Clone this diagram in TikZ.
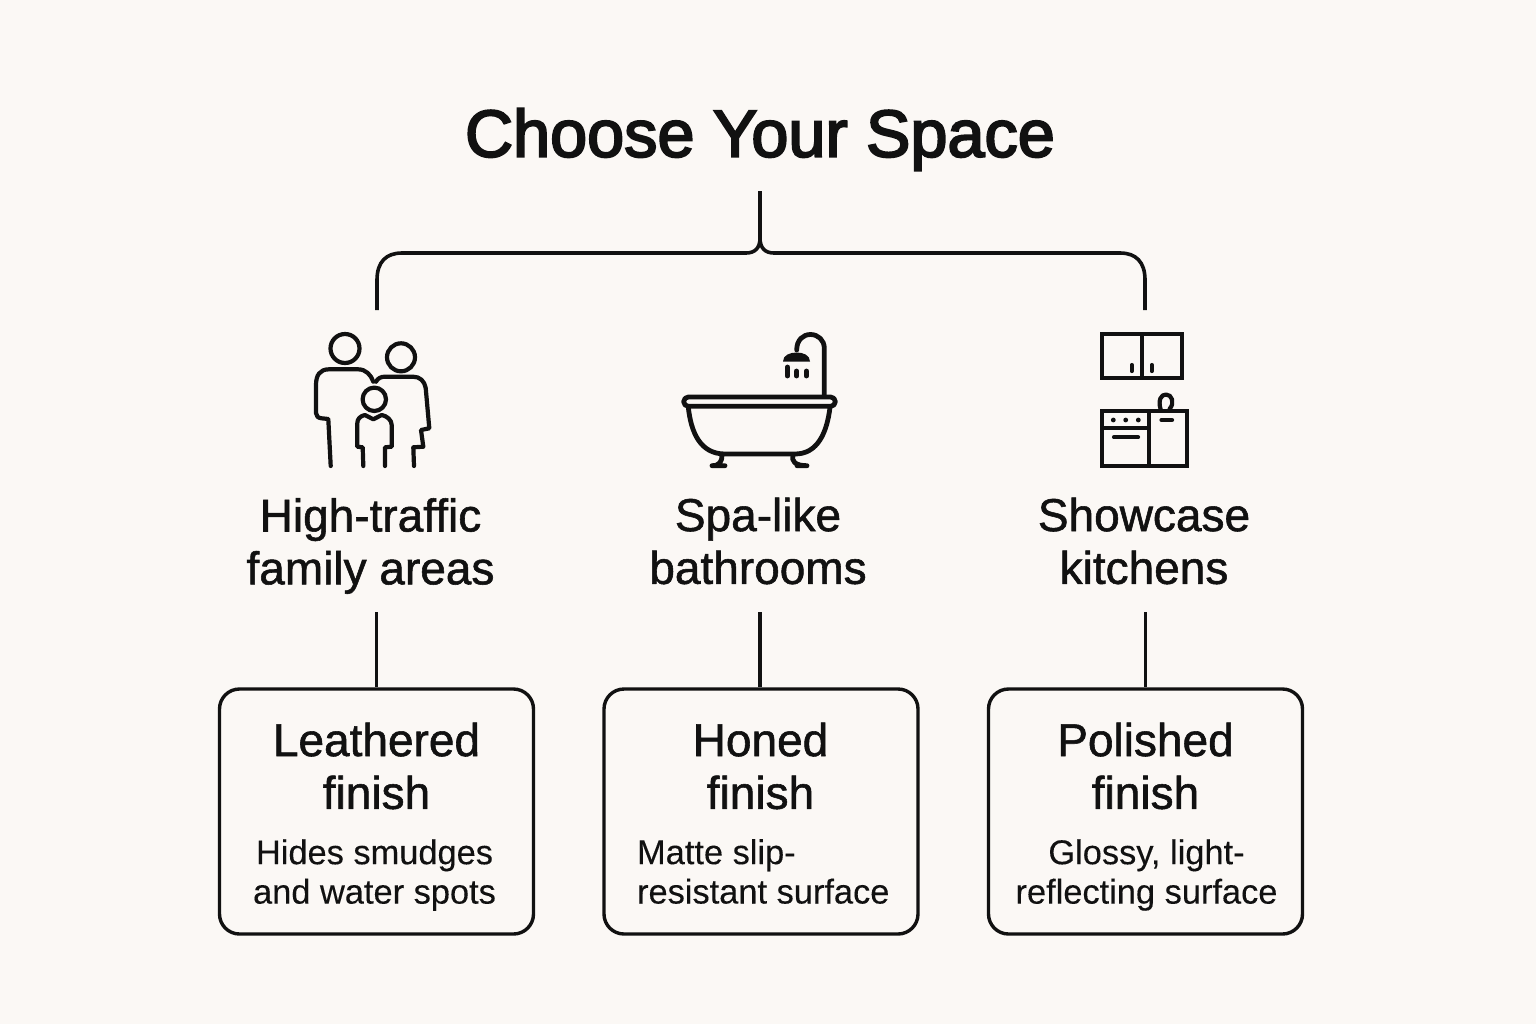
\documentclass[tikz,border=0pt]{standalone}
\usepackage{fontspec}
\setmainfont{Liberation Sans}
\newfontfamily\titlefont[FakeBold=3]{Liberation Sans}
\newfontfamily\labelfont[FakeBold=1.2]{Liberation Sans}
\newfontfamily\notefont[FakeBold=0.2]{Liberation Sans}
\usetikzlibrary{calc}
\definecolor{paper}{HTML}{FBF8F5}
\definecolor{ink}{HTML}{111111}
\tikzset{
  titletext/.style={text=ink,font=\titlefont\fontsize{33.3}{40}\selectfont},
  spacetext/.style={text=ink,align=center,font=\labelfont\fontsize{23}{26.4}\selectfont},
  finishtext/.style={text=ink,align=center,font=\labelfont\fontsize{23}{26.4}\selectfont},
  notetext/.style={text=ink,font=\notefont\fontsize{17.2}{19.7}\selectfont},
  link/.style={draw=ink,line width=1.8pt},
  finishbox/.style={draw=ink,line width=1.7pt,rounded corners=10pt,minimum width=157pt,minimum height=122.5pt,inner sep=0pt},
  icon/.style={draw=ink,line width=2.1pt,line join=round,line cap=round},
  bathline/.style={draw=ink,line width=2.4pt,line join=round,line cap=round},
  iconsq/.style={draw=ink,line width=2.1pt,line join=miter}
}
\begin{document}
\begin{tikzpicture}[x=0.5pt,y=-0.5pt]
\fill[paper] (0,0) rectangle (1536,1024);
\useasboundingbox (0,0) rectangle (1536,1024);
\node[titletext] (title) at (760,139.5) {Choose Your Space};
\coordinate (stem) at (760,191);
\coordinate (fork) at (760,238);
\coordinate (leftdrop) at (377,310);
\coordinate (rightdrop) at (1145,310);
\draw[link] (stem) -- (fork) .. controls (760,248) and (755,253) .. (746,253) -- (402,253) .. controls (386,253) and (377,262) .. (377,280) -- (leftdrop);
\draw[link] (fork) .. controls (760,248) and (765,253) .. (774,253) -- (1120,253) .. controls (1136,253) and (1145,262) .. (1145,280) -- (rightdrop);
\node[spacetext] (family) at (370.5,546) {High-traffic\\family areas};
\node[spacetext] (bath) at (758,541) {Spa-like\\bathrooms};
\node[spacetext] (kitchen) at (1144,541) {Showcase\\kitchens};
\node[finishbox] (leathered) at (376.5,811.5) {};
\node[finishbox] (honed) at (761,811.5) {};
\node[finishbox] (polished) at (1145.5,811.5) {};
\coordinate (familyout) at (376.5,612);
\coordinate (bathout) at (760,612);
\coordinate (kitchenout) at (1145.5,612);
\draw[link] (familyout) -- (leathered.north);
\draw[link] (bathout) -- (bathout|-honed.north);
\draw[link] (kitchenout) -- (polished.north);
\node[finishtext] (leatheredname) at (376.5,766) {Leathered\\finish};
\node[finishtext] (honedname) at (760.5,766) {Honed\\finish};
\node[finishtext] (polishedname) at (1145.5,766) {Polished\\finish};
\node[notetext,align=center] (leatherednote) at (374.5,875) {Hides smudges\\and water spots};
\node[notetext,align=left,anchor=west] (honednote) at (630,871.5) {Matte slip-\\resistant surface};
\node[notetext,align=center] (polishednote) at (1146.5,875) {Glossy, light-\\reflecting surface};
\draw[icon] (345,348.5) circle (14.5);
\draw[icon] (401,357.3) circle (14);
\draw[icon] (374.3,399.3) circle (11.7);
\draw[icon] (330.7,466) -- (328.3,419) -- (321.7,418.3) .. controls (318,418) and (316,416) .. (316,413) -- (316,385) .. controls (316,375) and (320,369.3) .. (329,369.3) -- (358,369.3) .. controls (366,369.3) and (371,375) .. (373.3,381.7);
\draw[icon] (376,381.7) .. controls (378,378) and (381,376.7) .. (385,376.7) -- (413,376.7) .. controls (420,376.7) and (424.5,381) .. (425.7,388) -- (429.3,428.3) -- (421,430) -- (423.3,446.7) -- (413.3,447.3) -- (414,466);
\draw[icon] (363.3,466) -- (362.7,447.3) -- (357.3,446.7) -- (357.3,423.3) .. controls (357.3,419) and (360,416) .. (365,415) -- (373.3,419.3) -- (381.7,415) .. controls (387,416) and (391.7,420) .. (391.7,425) -- (391.7,446.7) -- (385,447.3) -- (385,466);
\draw[bathline,rounded corners=2.3pt] (683.7,397) rectangle (835.3,406.3);
\draw[bathline] (688.3,407.3) .. controls (691,432) and (700,454) .. (725,454) -- (795,454) .. controls (818,454) and (827,432) .. (830,407.3);
\draw[bathline] (722,455) .. controls (722,461) and (720,465.7) .. (712,465.7) -- (725,465.7);
\draw[bathline] (793,455) .. controls (791,461) and (795,465.7) .. (807,465.7) -- (797,465.7);
\draw[bathline] (824.3,396) -- (824.3,348.3) .. controls (824.3,340) and (818,334.5) .. (810.5,334.5) .. controls (803,334.5) and (796.7,340) .. (796.7,350);
\fill[ink] (783,361.5) .. controls (783,355) and (790,352.5) .. (796.7,352.5) .. controls (803,352.5) and (810,355) .. (810,361.5) -- cycle;
\draw[bathline] (787.3,367) -- (787.3,376);
\draw[bathline] (796.7,371) -- (796.7,376);
\draw[bathline] (806.3,371) -- (806.3,376);
\draw[iconsq] (1101.7,334) rectangle (1182.3,378.3);
\draw[iconsq] (1142.3,334) -- (1142.3,378.3);
\draw[icon] (1131.7,365) -- (1131.7,371);
\draw[icon] (1151.7,365) -- (1151.7,371);
\draw[iconsq] (1101.7,410.7) rectangle (1187.3,465.7);
\draw[iconsq] (1149,410.7) -- (1149,465.7);
\draw[iconsq] (1101.7,428.3) -- (1149,428.3);
\foreach \dotx in {1113.3,1125.7,1138.3}
  \fill[ink] (\dotx,420) circle (2.4);
\draw[icon] (1114,437.3) -- (1138,437.3);
\draw[icon] (1161.5,420) -- (1172,420);
\draw[icon] (1160.5,409) .. controls (1158,400) and (1161,394.5) .. (1166,394.5) .. controls (1172,394.5) and (1175,403) .. (1169.5,409);
\end{tikzpicture}
\end{document}
